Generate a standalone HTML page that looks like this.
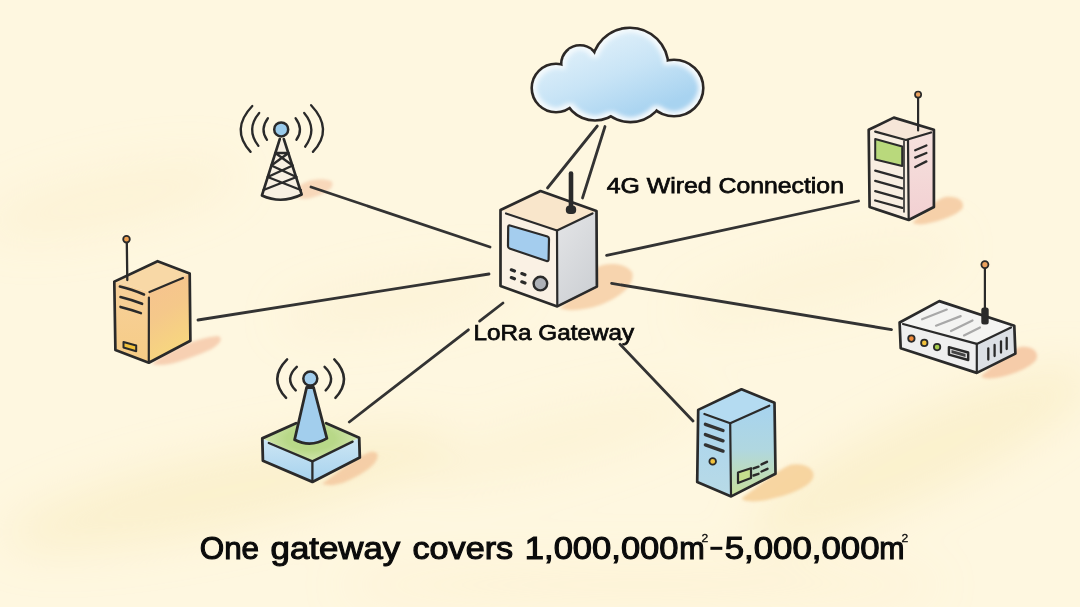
<!DOCTYPE html>
<html><head><meta charset="utf-8">
<style>
html,body{margin:0;padding:0;width:1080px;height:607px;overflow:hidden;background:#FEF7E0;}
svg{display:block;position:absolute;left:0;top:0;}
text{font-family:"Liberation Sans",sans-serif;}
</style></head>
<body>
<svg width="1080" height="607" viewBox="0 0 1080 607">
<defs>
  <filter id="bgblur" x="-50%" y="-50%" width="200%" height="200%"><feGaussianBlur stdDeviation="22"/></filter>
  <filter id="shblur" x="-50%" y="-50%" width="200%" height="200%"><feGaussianBlur stdDeviation="1.6"/></filter>
  <filter id="cloudF" x="-10%" y="-10%" width="120%" height="120%">
    <feMorphology in="SourceAlpha" operator="erode" radius="3" result="er"/>
    <feGaussianBlur in="er" stdDeviation="2.2" result="bl"/>
    <feComposite in="SourceGraphic" in2="bl" operator="in" result="blue"/>
    <feFlood flood-color="#F4FAFD"/>
    <feComposite in2="SourceAlpha" operator="in" result="white"/>
    <feMerge><feMergeNode in="white"/><feMergeNode in="blue"/></feMerge>
  </filter>
  <linearGradient id="cloudG" gradientUnits="userSpaceOnUse" x1="600" y1="40" x2="630" y2="118">
    <stop offset="0" stop-color="#DCEEF9"/><stop offset="0.45" stop-color="#C8E4F6"/><stop offset="1" stop-color="#A8D3F0"/>
  </linearGradient>
  <linearGradient id="gwSide" x1="0" y1="0" x2="0.6" y2="1">
    <stop offset="0" stop-color="#E4E5E7"/><stop offset="1" stop-color="#CED1D5"/>
  </linearGradient>
  <linearGradient id="orSide" x1="0" y1="0" x2="0.3" y2="1">
    <stop offset="0" stop-color="#F6C290"/><stop offset="0.5" stop-color="#F5C88A"/><stop offset="1" stop-color="#F7D77E"/>
  </linearGradient>
  <linearGradient id="orFront" x1="0" y1="0" x2="0" y2="1">
    <stop offset="0" stop-color="#F7D09A"/><stop offset="1" stop-color="#F6CC86"/>
  </linearGradient>
  <linearGradient id="bsSide" x1="0" y1="0" x2="0" y2="1">
    <stop offset="0" stop-color="#A6D3F0"/><stop offset="0.5" stop-color="#B0D7E0"/><stop offset="1" stop-color="#C8E09A"/>
  </linearGradient>
  <linearGradient id="bsFront" x1="0" y1="0" x2="0" y2="1">
    <stop offset="0" stop-color="#AAD5F0"/><stop offset="1" stop-color="#B8DAE6"/>
  </linearGradient>
  <linearGradient id="wkSide" x1="0" y1="0" x2="0" y2="1">
    <stop offset="0" stop-color="#F6E2DE"/><stop offset="1" stop-color="#F2D0D2"/>
  </linearGradient>
  <linearGradient id="baSide" x1="0" y1="0" x2="0" y2="1">
    <stop offset="0" stop-color="#CDE6F4"/><stop offset="1" stop-color="#A6D2EE"/>
  </linearGradient>
  <radialGradient id="baTop" cx="0.5" cy="0.5" r="0.55">
    <stop offset="0.45" stop-color="#B8D888"/><stop offset="1" stop-color="#D6E8B4"/>
  </radialGradient>
</defs>

<!-- background blotches -->
<g filter="url(#bgblur)">
  <ellipse cx="230" cy="490" rx="230" ry="38" fill="#F8E7B0" opacity="0.36" transform="rotate(-12 230 490)"/>
  <ellipse cx="110" cy="200" rx="130" ry="28" fill="#F9EABE" opacity="0.29" transform="rotate(-12 110 200)"/>
  <ellipse cx="400" cy="300" rx="120" ry="22" fill="#F9E9BC" opacity="0.26" transform="rotate(-10 400 300)"/>
  <ellipse cx="920" cy="455" rx="190" ry="40" fill="#F8E7B0" opacity="0.36" transform="rotate(-25 920 455)"/>
  <ellipse cx="560" cy="440" rx="150" ry="28" fill="#F9EABC" opacity="0.26" transform="rotate(-15 560 440)"/>
  <ellipse cx="820" cy="280" rx="140" ry="25" fill="#F9EBC2" opacity="0.26" transform="rotate(-15 820 280)"/>
  <ellipse cx="640" cy="585" rx="300" ry="25" fill="#F9EBC0" opacity="0.23"/>
</g>

<!-- shadows -->
<g filter="url(#shblur)">
  <path d="M296 190 C302 180 320 177 331 181 C336 186 328 193 314 197 C303 201 294 198 296 190 Z" fill="#F6CDAE" opacity="0.75"/>
  <path d="M152 364 C165 352 195 338 218 336 C224 338 220 346 205 352 C185 360 165 368 152 364 Z" fill="#F4C3A3" opacity="0.75"/>
  <path d="M322 484 C340 470 358 456 370 452 C382 450 380 462 364 472 C350 481 335 488 322 484 Z" fill="#F4C59C" opacity="0.8"/>
  <path d="M560 308 C575 296 588 282 596 268 C605 262 625 262 632 272 C636 284 620 298 600 305 C585 310 568 312 560 308 Z" fill="#F6CEA4" opacity="0.85"/>
  <path d="M742 498 C760 485 778 470 790 465 C805 462 818 470 812 480 C805 490 780 498 760 501 C750 502 742 501 742 498 Z" fill="#F6CF96" opacity="0.85"/>
  <path d="M981 376 C995 365 1010 350 1020 347 C1032 345 1040 352 1036 360 C1030 368 1010 376 995 378 C987 379 982 378 981 376 Z" fill="#F4C4A0" opacity="0.85"/>
  <path d="M913 222 C925 212 935 200 945 197 C958 195 966 202 962 209 C955 216 940 221 925 224 C918 225 913 224 913 222 Z" fill="#F5C9A0" opacity="0.85"/>
</g>

<!-- connection lines -->
<g stroke="#333" stroke-width="2.8" stroke-linecap="round" fill="none">
  <line x1="597.3" y1="126" x2="547.5" y2="188"/>
  <line x1="605" y1="126.5" x2="582.5" y2="198"/>
  <line x1="311" y1="187" x2="490" y2="247"/>
  <line x1="198" y1="320" x2="489" y2="274"/>
  <line x1="349.3" y1="422" x2="468.4" y2="329.8"/>
  <line x1="479.6" y1="321.1" x2="503" y2="303"/>
  <line x1="620" y1="344.3" x2="693" y2="421"/>
  <line x1="611.6" y1="283.4" x2="891.5" y2="329.6"/>
  <line x1="606.6" y1="255.4" x2="858.5" y2="201"/>
</g>

<!-- CLOUD -->
<g id="cloud">
  <g stroke="#2C2826" stroke-width="5.2">
    <circle cx="556" cy="88" r="23"/>
    <circle cx="580" cy="64" r="17.5"/>
    <circle cx="630" cy="66" r="37"/>
    <ellipse cx="674" cy="88" rx="28" ry="27"/>
    <circle cx="595" cy="88" r="31.2"/>
    <circle cx="630.4" cy="86.3" r="34.5"/>
  </g>
  <g fill="url(#cloudG)" filter="url(#cloudF)">
    <circle cx="556" cy="88" r="23"/>
    <circle cx="580" cy="64" r="17.5"/>
    <circle cx="630" cy="66" r="37"/>
    <ellipse cx="674" cy="88" rx="28" ry="27"/>
    <circle cx="595" cy="88" r="31.2"/>
    <circle cx="630.4" cy="86.3" r="34.5"/>
  </g>
</g>

<!-- GATEWAY -->
<g id="gateway" stroke="#2A2A2A" stroke-width="2.7" stroke-linejoin="round" stroke-linecap="round">
  <path d="M500.5 210 L540.5 191 L596.5 211 L557 230.5 Z" fill="#F9E6CB" stroke="none"/>
  <path d="M500.5 210 L557 230.5 L557.3 306.4 L500.5 286 Z" fill="#FAF1E4" stroke="none"/>
  <path d="M557 230.5 L596.5 211 L596.9 286.6 L557.3 306.4 Z" fill="url(#gwSide)" stroke="none"/>
  <path d="M500.5 210 L540.5 191 L596.5 211 L596.9 286.6 L557.3 306.4 L500.5 286 Z" fill="none"/>
  <path d="M506 213.5 L557 230.5 L592.5 213.5" fill="none" stroke-width="2.2"/>
  <line x1="557" y1="230.5" x2="557.3" y2="305" stroke-width="2.2"/>
  <path d="M510 225.5 L547.5 236.5 Q549 237 549 239 L548.6 259.5 Q548.6 261.6 546.5 261 L509.5 248.5 Q508 248 508 246 L508.2 227 Q508.2 225 510 225.5 Z" fill="#A4CDEE" stroke-width="2.2"/>
  <circle cx="540.4" cy="283.6" r="6.8" fill="#AEB1B7" stroke-width="2.4"/>
  <g stroke-width="3.2">
    <line x1="511.3" y1="269.8" x2="514.5" y2="271"/>
    <line x1="521.8" y1="273.6" x2="525" y2="274.8"/>
    <line x1="511.3" y1="277.6" x2="514.5" y2="278.8"/>
    <line x1="521.8" y1="281.8" x2="525" y2="283"/>
  </g>
  <line x1="571" y1="173.5" x2="571" y2="209" stroke-width="4.6"/>
  <rect x="565.8" y="205.5" width="10.4" height="8.5" rx="4" fill="#2A2A2A" stroke="none"/>
</g>

<!-- TOWER -->
<g id="tower" stroke="#2A2A2A" stroke-width="2.6" fill="none" stroke-linecap="round" stroke-linejoin="round">
  <path d="M279.8 139 L261.9 195.5 Q281.5 204.5 301.7 194.5 L283.8 139" fill="#F8F0E2"/>
  <path d="M275.3 153 L288.5 153 M275.3 153 L292.7 165.5 M288.5 153 L271.3 165.5 M271.3 165.5 L296.5 177 M292.7 165.5 L267.7 177 M267.7 177 L300.8 190 M296.5 177 L263.5 190" stroke-width="2.4"/>
  <circle cx="281.2" cy="129.4" r="7" fill="#9ACBEB" stroke-width="2.5"/>
  <g stroke-width="2.3">
  <path d="M267.9 118.2 Q259.5 129.4 267 139.8"/>
  <path d="M259.2 113 Q245.5 129.4 258.4 145.9"/>
  <path d="M252.3 106 Q230 129.4 250.6 151.9"/>
  <path d="M295.6 118.2 Q304 129.4 296.4 139.8"/>
  <path d="M304.2 113 Q318 129.4 305.1 146.7"/>
  <path d="M311.1 105.2 Q334 129.4 312.9 151.9"/>
  </g>
</g>

<!-- ORANGE SERVER -->
<g id="orserver" stroke="#2A2A2A" stroke-width="2.7" stroke-linejoin="round" stroke-linecap="round">
  <path d="M114.3 281.6 L157.6 261.2 L189.7 273.5 L148.9 292.1 Z" fill="#F8D8A6" stroke="none"/>
  <path d="M114.3 281.6 L148.9 292.1 L148.8 362.7 L115.4 350 Z" fill="url(#orFront)" stroke="none"/>
  <path d="M148.9 292.1 L189.7 273.5 L190.4 340.8 L148.8 362.7 Z" fill="url(#orSide)" stroke="none"/>
  <path d="M114.3 281.6 L157.6 261.2 L189.7 273.5 L190.4 340.8 L148.8 362.7 L115.4 350 Z" fill="none"/>
  <path d="M149.5 292 L182.9 277.9" fill="none" stroke-width="2.2"/>
  <line x1="148.9" y1="297.6" x2="148.8" y2="361" stroke-width="2.2"/>
  <g stroke-width="2.6" fill="none">
    <path d="M119.9 286.5 Q131 289 144 294.5"/>
    <path d="M120.5 297 Q131 299.5 142.1 303.8"/>
    <path d="M120.5 306.9 Q131 309.5 140.9 313.1"/>
  </g>
  <path d="M123.5 342 L136.2 345.5 L136.2 351.2 L123.5 347.5 Z" fill="#F2C23C" stroke-width="2"/>
  <line x1="126.8" y1="242" x2="127.3" y2="280" stroke-width="2.3"/>
  <circle cx="126.5" cy="239.2" r="3.3" fill="#EFA050" stroke-width="1.8"/>
</g>

<!-- BLUE ANTENNA -->
<g id="bantenna" stroke="#2A2A2A" stroke-width="2.8" stroke-linejoin="round" stroke-linecap="round">
  <path d="M262.3 438.4 L310.4 416 L359.2 437.7 L312.4 461.4 Z" fill="url(#baTop)" stroke="none"/>
  <path d="M262.3 438.4 L312.4 461.4 L312.4 481.9 L262.9 460.8 Z" fill="url(#baSide)" stroke="none"/>
  <path d="M312.4 461.4 L359.2 437.7 L359.8 457.5 L312.4 481.9 Z" fill="url(#baSide)" stroke="none"/>
  <path d="M296 423.2 L262.3 438.4 L262.9 460.8 L312.4 481.9 L359.8 457.5 L359.2 437.7 L326.2 423.2" fill="none"/>
  <path d="M268.8 443 L312.4 461.4 L352.6 441.6" fill="none" stroke-width="2.3"/>
  <line x1="312.4" y1="461.4" x2="312.4" y2="480.5" stroke-width="2.3"/>
  <path d="M306.6 387.5 L313.6 387.5 L326.9 438.4 Q310.4 448 294.6 439.7 Z" fill="#A2CEED"/>
  <circle cx="310.3" cy="378.6" r="7" fill="#A2CEED" stroke-width="2.5"/>
  <g fill="none" stroke-width="2.5">
    <path d="M287.1 359.3 Q268 378.6 286.1 397.9"/>
    <path d="M296.8 366.8 Q284 378.6 295.7 390.4"/>
    <path d="M324.6 366.8 Q337 378.6 325.7 390.4"/>
    <path d="M334.3 359.3 Q353 378.6 335.4 397.9"/>
  </g>
</g>

<!-- BLUE SERVER -->
<g id="bserver" stroke="#2A2A2A" stroke-width="2.7" stroke-linejoin="round" stroke-linecap="round">
  <path d="M698.2 409.9 L741.5 389.3 L774.5 402.7 L730.2 423.3 Z" fill="#B4DBF1" stroke="none"/>
  <path d="M698.2 409.9 L730.2 423.3 L731.2 496.4 L697.2 482 Z" fill="url(#bsFront)" stroke="none"/>
  <path d="M730.2 423.3 L774.5 402.7 L775.5 473.7 L731.2 496.4 Z" fill="url(#bsSide)" stroke="none"/>
  <path d="M698.2 409.9 L741.5 389.3 L774.5 402.7 L775.5 473.7 L731.2 496.4 L697.2 482 Z" fill="none"/>
  <path d="M704.4 414 L730.2 423.3 L769.3 405.7" fill="none" stroke-width="2.2"/>
  <line x1="730.2" y1="423.3" x2="731" y2="495" stroke-width="2.2"/>
  <g stroke-width="3.4" stroke="#333">
    <line x1="705.4" y1="424.3" x2="723" y2="430.5"/>
    <line x1="705.4" y1="434.6" x2="723" y2="440.8"/>
    <line x1="705.4" y1="444.9" x2="723" y2="451.1"/>
  </g>
  <circle cx="712.7" cy="461.4" r="3.3" fill="#F2C23C" stroke-width="1.8"/>
  <g stroke-width="2.4" fill="none">
    <path d="M738 472.5 L751 468.2 L751 478 L738 483 Z" fill="#C6DE8E" stroke-width="2.2"/>
    <line x1="753.5" y1="468.4" x2="758.5" y2="466.7"/>
    <line x1="761.5" y1="464.4" x2="767" y2="461.8"/>
    <line x1="753.5" y1="475.5" x2="758.5" y2="473.8"/>
    <line x1="761.5" y1="471.5" x2="767.5" y2="468.8"/>
  </g>
</g>

<!-- ROUTER -->
<g id="router" stroke="#2A2A2A" stroke-width="2.7" stroke-linejoin="round" stroke-linecap="round">
  <path d="M899.6 322.5 L939.3 301.1 L1014.3 325.7 L976.8 343.9 Z" fill="#F4F4F2" stroke="none"/>
  <path d="M899.6 322.5 L976.8 343.9 L976.8 372.9 L900.7 348.2 Z" fill="#EFEFEF" stroke="none"/>
  <path d="M976.8 343.9 L1014.3 325.7 L1015.4 353.6 L976.8 372.9 Z" fill="#DCE0E5" stroke="none"/>
  <path d="M899.6 322.5 L939.3 301.1 L1014.3 325.7 L1015.4 353.6 L976.8 372.9 L900.7 348.2 Z" fill="none"/>
  <path d="M903 324 L976.8 343.9 L1011 327.5" fill="none" stroke-width="2.2"/>
  <line x1="976.8" y1="343.9" x2="976.8" y2="371.5" stroke-width="2.2"/>
  <g stroke="#A8A8A8" stroke-width="2.2">
    <line x1="922.1" y1="319.3" x2="946.8" y2="309.6"/>
    <line x1="936" y1="325.7" x2="960.7" y2="316.1"/>
    <line x1="951" y1="331" x2="972.5" y2="320.5"/>
    <line x1="964" y1="335.4" x2="980" y2="327.5"/>
  </g>
  <circle cx="911.4" cy="338.6" r="3.2" fill="#F08A3A" stroke-width="1.8"/>
  <circle cx="924.3" cy="342.9" r="3.2" fill="#F2C23C" stroke-width="1.8"/>
  <circle cx="937.1" cy="347.1" r="3.2" fill="#A6CC4E" stroke-width="1.8"/>
  <path d="M948.9 347.1 L968.2 352.5 L968.2 360 L948.9 354.6 Z" fill="#DDDDDD" stroke-width="2.4"/>
  <path d="M951.5 350 L965.5 354 L965.5 357 L951.5 353 Z" fill="#444" stroke="none"/>
  <g stroke-width="2.3">
    <line x1="988.3" y1="348.5" x2="988.3" y2="359.5"/>
    <line x1="994.6" y1="345" x2="994.6" y2="356"/>
    <line x1="1001" y1="341.5" x2="1001" y2="352.5"/>
    <line x1="1006.7" y1="338" x2="1006.7" y2="349"/>
  </g>
  <line x1="984.9" y1="267" x2="984.9" y2="309" stroke-width="2.2"/>
  <rect x="981.3" y="307.5" width="7.4" height="17" rx="2.5" fill="#2A2A2A" stroke="none"/>
  <circle cx="984.9" cy="264.6" r="3.5" fill="#EBA25E" stroke-width="1.8"/>
</g>

<!-- WALKIE -->
<g id="walkie" stroke="#2A2A2A" stroke-width="2.7" stroke-linejoin="round" stroke-linecap="round">
  <path d="M868.7 129.7 L893.8 117.6 L933.9 129.7 L908 139.5 Z" fill="#F6E6D8" stroke="none"/>
  <path d="M868.7 129.7 L908 139.5 L908.7 220 L869.6 207 Z" fill="#F8EEE1" stroke="none"/>
  <path d="M908 139.5 L933.9 129.7 L933.9 207 L908.7 220 Z" fill="url(#wkSide)" stroke="none"/>
  <path d="M868.7 129.7 L893.8 117.6 L933.9 129.7 L933.9 207 L908.7 220 L869.6 207 Z" fill="none"/>
  <path d="M875.2 131.6 L905.9 140 L931 132.5" fill="none" stroke-width="2.2"/>
  <line x1="908" y1="140" x2="908.7" y2="219" stroke-width="2.2"/>
  <line x1="904" y1="141" x2="904" y2="212" stroke-width="1.6"/>
  <path d="M875.2 139 L902.2 146.5 L902.2 166 L875.2 159.5 Z" fill="#B9D97C" stroke-width="2"/>
  <g stroke-width="2.3">
    <line x1="875.2" y1="170.7" x2="902.2" y2="178.1"/>
    <line x1="875.2" y1="180.9" x2="902.2" y2="188.4"/>
    <line x1="875.2" y1="191.2" x2="902.2" y2="198.6"/>
    <line x1="875.2" y1="200.5" x2="902.2" y2="207.9"/>
    <line x1="915.2" y1="150.2" x2="926.4" y2="145.5"/>
    <line x1="915.2" y1="157.6" x2="926.4" y2="153"/>
    <line x1="915.2" y1="167" x2="926.4" y2="161.4"/>
  </g>
  <line x1="918.1" y1="97" x2="918.1" y2="130.4" stroke-width="2.2"/>
  <circle cx="918.1" cy="94.6" r="3.1" fill="#EBA25E" stroke-width="1.7"/>
</g>

<!-- TEXT -->
<g font-family="Liberation Sans" font-weight="normal" fill="#0B0B0B" stroke="#0B0B0B">
<text x="606.8" y="193.0" font-size="22.4" stroke-width="0.75" textLength="237.18" lengthAdjust="spacingAndGlyphs">4G Wired Connection</text>
<text x="473.62" y="339.7" font-size="22.4" stroke-width="0.75" textLength="160.42" lengthAdjust="spacingAndGlyphs">LoRa Gateway</text>
<text x="199.69" y="559.0" font-size="31" stroke-width="1.1" textLength="59.43" lengthAdjust="spacingAndGlyphs">One</text>
<text x="270.58" y="559.0" font-size="31" stroke-width="1.1" textLength="129.63" lengthAdjust="spacingAndGlyphs">gateway</text>
<text x="412.5" y="559.0" font-size="31" stroke-width="1.1" textLength="100.65" lengthAdjust="spacingAndGlyphs">covers</text>
<text x="524.87" y="559.0" font-size="31" stroke-width="1.1" textLength="153.66" lengthAdjust="spacingAndGlyphs">1,000,000</text>
<text x="679.13" y="559.0" font-size="31" stroke-width="1.1" textLength="25.48" lengthAdjust="spacingAndGlyphs">m</text>
<text x="724.78" y="559.0" font-size="31" stroke-width="1.1" textLength="154.76" lengthAdjust="spacingAndGlyphs">5,000,000</text>
<text x="879.15" y="559.0" font-size="31" stroke-width="1.1" textLength="25.24" lengthAdjust="spacingAndGlyphs">m</text>
<text x="701.5" y="542.3" font-size="11.5" stroke-width="0.3" textLength="6.73" lengthAdjust="spacingAndGlyphs">2</text>
<text x="901.5" y="542.3" font-size="11.5" stroke-width="0.3" textLength="6.73" lengthAdjust="spacingAndGlyphs">2</text>
<rect x="710.4" y="546.8" width="11.9" height="3" stroke="none"/>
</g>
</svg>
</body></html>
